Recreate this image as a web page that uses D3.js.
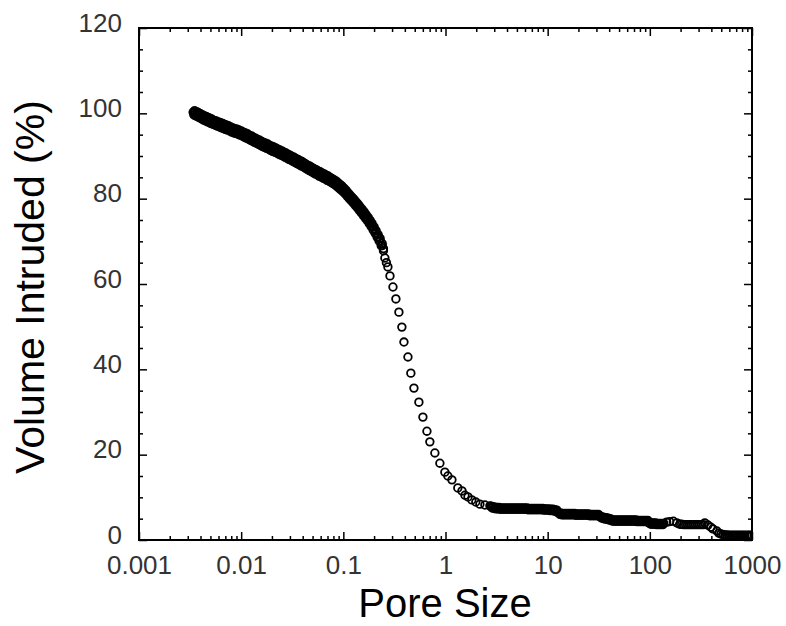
<!DOCTYPE html>
<html lang="en">
    <head>
        <meta charset="UTF-8">
        <title>pore size</title>
        <script src="https://cdn.jsdelivr.net/npm/d3@7"></script>
        <style>
            body { margin: 0; background: #fff; }
        </style>
    </head>
    <body>
        <div id="chart"></div>
    </body>
    <script>
        // dense start of the curve (black band), pore sizes
        var bandX = [
            0.0034, 0.0035, 0.0037, 0.0038, 0.004, 0.0042, 0.0044, 0.0046, 0.0048, 0.005,
            0.0052, 0.0055, 0.0057, 0.006, 0.0063, 0.0066, 0.0069, 0.0072, 0.0075, 0.0079,
            0.0083, 0.0087, 0.0091, 0.0095, 0.01, 0.0105, 0.011, 0.0115, 0.012, 0.0126,
            0.0132, 0.0138, 0.0145, 0.0152, 0.0159, 0.0166, 0.0174, 0.0182, 0.019, 0.0199,
            0.0208, 0.0218, 0.0228, 0.0239, 0.025, 0.0262, 0.0274, 0.0287, 0.03, 0.0314,
            0.0329, 0.0344, 0.036, 0.0377, 0.0394, 0.0412, 0.0431, 0.0451, 0.0472, 0.0494,
            0.0517, 0.0541, 0.0566, 0.0592, 0.062, 0.0649, 0.0679, 0.071, 0.0743, 0.0778,
            0.0814, 0.0852, 0.0891, 0.0933, 0.0976, 0.102, 0.107, 0.112, 0.117, 0.122,
            0.128, 0.134, 0.14, 0.146, 0.153, 0.16, 0.167, 0.175, 0.183, 0.191,
            0.2, 0.209, 0.219, 0.229, 0.24, 0.247
        ];
        // volume along the upper half of the band
        var upperY = [
            100.3, 100.6, 100.3, 100.2, 99.9, 99.6, 99.4, 99.2, 99.0, 98.8,
            98.6, 98.3, 98.2, 98.0, 97.8, 97.6, 97.4, 97.2, 97.1, 96.8,
            96.6, 96.4, 96.3, 96.1, 95.9, 95.6, 95.4, 95.2, 94.9, 94.7,
            94.4, 94.2, 93.9, 93.7, 93.4, 93.2, 93.0, 92.8, 92.5, 92.3,
            92.1, 91.9, 91.6, 91.4, 91.2, 90.9, 90.7, 90.4, 90.2, 89.9,
            89.7, 89.4, 89.2, 88.9, 88.7, 88.4, 88.1, 87.8, 87.6, 87.3,
            87.0, 86.8, 86.5, 86.3, 86.0, 85.8, 85.5, 85.3, 85.0, 84.7,
            84.4, 84.1, 83.7, 83.3, 82.9, 82.4, 81.9, 81.3, 80.8, 80.3,
            79.8, 79.2, 78.7, 78.1, 77.5, 76.9, 76.3, 75.6, 74.9, 74.2,
            73.4, 72.5, 71.6, 70.7, 69.5, 68.3
        ];
        // volume along the middle of the band
        var centerY = [
            100.2, 100.1, 99.8, 99.7, 99.4, 99.1, 98.9, 98.7, 98.5, 98.3,
            98.1, 97.8, 97.7, 97.5, 97.3, 97.1, 96.9, 96.7, 96.6, 96.3,
            96.1, 95.9, 95.8, 95.6, 95.4, 95.1, 94.9, 94.7, 94.4, 94.2,
            93.9, 93.7, 93.4, 93.2, 92.9, 92.7, 92.5, 92.3, 92.0, 91.8,
            91.6, 91.4, 91.1, 90.9, 90.7, 90.4, 90.2, 89.9, 89.7, 89.4,
            89.2, 88.9, 88.7, 88.4, 88.2, 87.9, 87.6, 87.3, 87.1, 86.8,
            86.5, 86.3, 86.0, 85.8, 85.5, 85.3, 85.0, 84.8, 84.5, 84.2,
            83.9, 83.6, 83.2, 82.8, 82.4, 81.9, 81.4, 80.8, 80.3, 79.8,
            79.3, 78.7, 78.2, 77.6, 77.0, 76.4, 75.8, 75.1, 74.4, 73.7,
            72.9, 72.0, 71.1, 70.2, 69.0, 67.8
        ];
        // lower half of the band, between the pore sizes above
        var lowerX = [
            0.00345, 0.0036, 0.00375, 0.0039, 0.0041, 0.0043, 0.0045, 0.0047, 0.0049, 0.0051,
            0.00535, 0.0056, 0.00585, 0.00615, 0.00645, 0.00675, 0.00705, 0.00735, 0.0077, 0.0081,
            0.0085, 0.0089, 0.0093, 0.00975, 0.01025, 0.01075, 0.01125, 0.01175, 0.0123, 0.0129,
            0.0135, 0.01415, 0.01485, 0.01555, 0.01625, 0.017, 0.0178, 0.0186, 0.01945, 0.02035,
            0.0213, 0.0223, 0.02335, 0.02445, 0.0256, 0.0268, 0.02805, 0.02935, 0.0307, 0.03215,
            0.03365, 0.0352, 0.03685, 0.03855, 0.0403, 0.04215, 0.0441, 0.04615, 0.0483, 0.05055,
            0.0529, 0.05535, 0.0579, 0.0606, 0.06345, 0.0664, 0.06945, 0.07265, 0.076, 0.0796,
            0.0833, 0.0871, 0.0912, 0.0954, 0.0998, 0.1045, 0.1095, 0.1145, 0.1195, 0.125,
            0.131, 0.137, 0.143, 0.1495, 0.1565, 0.1635, 0.171, 0.179, 0.187, 0.1955,
            0.2045, 0.214, 0.224, 0.2345
        ];
        var lowerY = [
            99.6, 99.4, 99.2, 99.0, 98.7, 98.4, 98.2, 98.0, 97.8, 97.6,
            97.4, 97.2, 97.0, 96.8, 96.6, 96.4, 96.2, 96.1, 95.9, 95.6,
            95.4, 95.3, 95.1, 94.9, 94.7, 94.4, 94.2, 94.0, 93.7, 93.5,
            93.2, 93.0, 92.7, 92.5, 92.2, 92.0, 91.8, 91.6, 91.3, 91.1,
            90.9, 90.7, 90.4, 90.2, 90.0, 89.7, 89.5, 89.2, 89.0, 88.7,
            88.5, 88.2, 88.0, 87.7, 87.5, 87.2, 86.9, 86.6, 86.4, 86.1,
            85.8, 85.6, 85.3, 85.1, 84.8, 84.6, 84.3, 84.1, 83.8, 83.5,
            83.2, 82.8, 82.4, 82.0, 81.6, 81.1, 80.5, 80.0, 79.5, 79.0,
            78.4, 77.9, 77.3, 76.7, 76.1, 75.5, 74.9, 74.2, 73.5, 72.7,
            71.9, 71.0, 70.1, 69.0
        ];
        // rest of the curve: the drop and the tail
        var poreSize = [
            0.255, 0.264, 0.273, 0.286, 0.306, 0.327, 0.35, 0.374, 0.392, 0.429,
            0.458, 0.491, 0.549, 0.601, 0.658, 0.703, 0.787, 0.881, 0.986, 1.055,
            1.156, 1.32, 1.45, 1.55, 1.66, 1.81, 1.98, 2.17, 2.43, 2.72,
            2.8, 2.93, 3.06, 3.2, 3.35, 3.5, 3.66, 3.83, 4.0, 4.19,
            4.38, 4.58, 4.79, 5.01, 5.24, 5.48, 5.73, 6.0, 6.27, 6.56,
            6.86, 7.18, 7.51, 7.85, 8.21, 8.59, 8.99, 9.4, 9.83, 10.3,
            10.8, 11.3, 11.8, 12.3, 12.9, 13.5, 14.1, 14.7, 15.4, 16.1,
            16.8, 17.6, 18.4, 19.2, 20.1, 21.0, 22.0, 23.0, 24.0, 25.1,
            26.3, 27.5, 28.7, 30.0, 31.4, 32.8, 34.3, 35.9, 37.5, 39.2,
            41.0, 42.9, 44.8, 46.9, 49.0, 51.2, 53.6, 56.0, 58.6, 61.2,
            64.0, 67.0, 70.0, 73.2, 76.5, 80.0, 83.6, 87.4, 91.4, 95.6,
            100, 104.5, 109, 114, 119, 125, 131, 137,
            146, 156, 170, 184,
            196, 205, 214, 224, 234, 245, 256, 268, 280, 293, 306, 320, 335,
            345, 370, 396, 414, 453, 474,
            495, 518, 542, 567, 593, 620, 649, 679, 710, 743, 777, 813, 850, 890, 931, 974
        ];
        var volume = [
            66.1, 65.0, 64.0, 61.9, 59.3, 56.5, 53.4, 49.9, 46.4, 42.9,
            39.1, 35.6, 32.3, 28.8, 25.5, 23.0, 20.4, 18.0, 15.9, 15.0,
            14.1, 12.2, 11.5, 10.5, 10.1, 9.4, 8.9, 8.4, 8.2, 8.0,
            7.9, 7.8, 7.7, 7.6, 7.6, 7.5, 7.5, 7.5, 7.5, 7.5,
            7.5, 7.5, 7.5, 7.5, 7.5, 7.5, 7.5, 7.5, 7.5, 7.4,
            7.4, 7.4, 7.4, 7.4, 7.4, 7.4, 7.4, 7.3, 7.3, 7.3,
            7.2, 7.2, 7.1, 7.0, 6.4, 6.3, 6.2, 6.2, 6.2, 6.2,
            6.2, 6.2, 6.2, 6.1, 6.1, 6.1, 6.1, 6.1, 6.1, 6.1,
            6.0, 6.0, 6.0, 6.0, 6.0, 5.6, 5.4, 5.3, 5.2, 5.1,
            5.0, 4.7, 4.7, 4.7, 4.7, 4.7, 4.7, 4.7, 4.7, 4.7,
            4.7, 4.7, 4.7, 4.7, 4.6, 4.6, 4.6, 4.6, 4.6, 4.6,
            4.0, 4.0, 4.0, 4.0, 3.9, 3.9, 3.9, 3.9,
            4.2, 4.3, 4.4, 4.0,
            3.7, 3.7, 3.6, 3.6, 3.6, 3.6, 3.6, 3.6, 3.6, 3.6, 3.6, 3.6, 3.6,
            4.0, 3.5, 3.0, 2.6, 2.1, 1.6,
            1.4, 1.3, 1.2, 1.2, 1.1, 1.1, 1.1, 1.1, 1.1, 1.1, 1.1, 1.1, 1.1, 1.1, 1.1, 1.1
        ];
        // tail band, points lying between the tail points above
        var tailX = [
            2.86, 3.0, 3.13, 3.27, 3.42, 3.58, 3.74, 3.91, 4.09, 4.28,
            4.48, 4.68, 4.9, 5.12, 5.36, 5.6, 5.86, 6.13, 6.41, 6.71,
            7.02, 7.34, 7.68, 8.03, 8.4, 8.79, 9.19, 9.61, 10.05, 10.55,
            11.05, 11.55, 12.05, 12.6, 13.2, 13.8, 14.4, 15.05, 15.75, 16.45,
            17.2, 18.0, 18.8, 19.65, 20.55, 21.5, 22.5, 23.5, 24.55, 25.7,
            26.9, 28.1, 29.35, 30.7, 32.1, 33.55, 35.1, 36.7, 38.35, 40.1,
            41.95, 43.85, 45.85, 47.95, 50.1, 52.4, 54.8, 57.3, 59.9, 62.6,
            65.5, 68.5, 71.6, 74.85, 78.25, 81.8, 85.5, 89.4, 93.5, 97.8,
            102.2, 106.7, 111.5, 116.5, 122, 128, 134
        ];
        var tailY = [
            7.5, 7.4, 7.3, 7.3, 7.2, 7.2, 7.2, 7.2, 7.2, 7.2,
            7.2, 7.2, 7.2, 7.2, 7.2, 7.2, 7.2, 7.2, 7.1, 7.1,
            7.1, 7.1, 7.1, 7.1, 7.1, 7.1, 7.0, 7.0, 7.0, 6.9,
            6.9, 6.8, 6.7, 6.4, 6.0, 5.9, 5.9, 5.9, 5.9, 5.9,
            5.9, 5.9, 5.8, 5.8, 5.8, 5.8, 5.8, 5.8, 5.8, 5.7,
            5.7, 5.7, 5.7, 5.7, 5.5, 5.2, 5.0, 4.9, 4.8, 4.7,
            4.5, 4.4, 4.4, 4.4, 4.4, 4.4, 4.4, 4.4, 4.4, 4.4,
            4.4, 4.4, 4.4, 4.3, 4.3, 4.3, 4.3, 4.3, 4.3, 4.0,
            3.7, 3.7, 3.7, 3.6, 3.6, 3.6, 3.6
        ];
        var xTickValues = [0.001, 0.01, 0.1, 1, 10, 100, 1000];
        var xTickLabels = ["0.001", "0.01", "0.1", "1", "10", "100", "1000"];
        var yTickValues = [0, 20, 40, 60, 80, 100, 120];

        var width = 786;
        var height = 626;
        var plot = {left: 139, right: 752, top: 28, bottom: 540};
        var font = "Arial, 'Liberation Sans', sans-serif";

        var svg = d3.select("#chart")
            .append("svg")
            .attr("width", width)
            .attr("height", height);

        var xScale = d3.scaleLog()
            .domain([0.001, 1000])
            .range([plot.left, plot.right]);
        var yScale = d3.scaleLinear()
            .domain([0, 120])
            .range([plot.bottom, plot.top]);

        // minor ticks: 2..9 of every decade, and every 5 on y
        var xMinor = [];
        xTickValues.slice(0, -1).forEach(function (d) {
            for (var k = 2; k < 10; k++) xMinor.push(d * k);
        });
        var yMinor = d3.range(0, 121, 5).filter(function (d) { return d % 20 !== 0; });

        function styleAxis(g) {
            g.select(".domain").remove();
            g.selectAll(".tick line").attr("stroke", "#000").attr("stroke-width", 1.5);
            g.selectAll(".tick text")
                .attr("fill", "#333")
                .style("font-family", font)
                .style("font-size", "26px");
        }

        // bottom
        svg.append("g")
            .attr("transform", "translate(0," + plot.bottom + ")")
            .call(d3.axisBottom(xScale).tickValues(xMinor).tickSize(-4).tickFormat(""))
            .call(styleAxis);
        svg.append("g")
            .attr("transform", "translate(0," + plot.bottom + ")")
            .call(d3.axisBottom(xScale).tickValues(xTickValues).tickSize(-8).tickPadding(16)
                .tickFormat(function (d, i) { return xTickLabels[i]; }))
            .call(styleAxis);
        // top
        svg.append("g")
            .attr("transform", "translate(0," + plot.top + ")")
            .call(d3.axisTop(xScale).tickValues(xMinor).tickSize(-4).tickFormat(""))
            .call(styleAxis);
        svg.append("g")
            .attr("transform", "translate(0," + plot.top + ")")
            .call(d3.axisTop(xScale).tickValues(xTickValues).tickSize(-8).tickFormat(""))
            .call(styleAxis);
        // left
        svg.append("g")
            .attr("transform", "translate(" + plot.left + ",0)")
            .call(d3.axisLeft(yScale).tickValues(yMinor).tickSize(-4).tickFormat(""))
            .call(styleAxis);
        var gy = svg.append("g")
            .attr("transform", "translate(" + plot.left + ",0)")
            .call(d3.axisLeft(yScale).tickValues(yTickValues).tickSize(-8).tickPadding(17))
            .call(styleAxis);
        gy.selectAll(".tick text").attr("dy", "0.12em");
        // right
        svg.append("g")
            .attr("transform", "translate(" + plot.right + ",0)")
            .call(d3.axisRight(yScale).tickValues(yMinor).tickSize(-4).tickFormat(""))
            .call(styleAxis);
        svg.append("g")
            .attr("transform", "translate(" + plot.right + ",0)")
            .call(d3.axisRight(yScale).tickValues(yTickValues).tickSize(-8).tickFormat(""))
            .call(styleAxis);

        // frame
        svg.append("rect")
            .attr("x", plot.left)
            .attr("y", plot.top)
            .attr("width", plot.right - plot.left)
            .attr("height", plot.bottom - plot.top)
            .attr("fill", "none")
            .attr("stroke", "#000")
            .attr("stroke-width", 2);

        svg.append("clipPath")
            .attr("id", "clip")
            .append("rect")
            .attr("x", plot.left)
            .attr("y", plot.top)
            .attr("width", plot.right - plot.left)
            .attr("height", plot.bottom - plot.top);

        // all points of the one series
        var points = [];
        bandX.forEach(function (d, i) { points.push([d, upperY[i]]); points.push([d, centerY[i]]); });
        lowerX.forEach(function (d, i) { points.push([d, lowerY[i]]); });
        poreSize.forEach(function (d, i) { points.push([d, volume[i]]); });
        tailX.forEach(function (d, i) { points.push([d, tailY[i]]); });

        // open circles
        svg.append("g")
            .attr("clip-path", "url(#clip)")
            .selectAll("circle")
            .data(points)
            .enter()
            .append("circle")
            .attr("cx", function (d) { return xScale(d[0]); })
            .attr("cy", function (d) { return yScale(d[1]); })
            .attr("r", 3.8)
            .attr("fill", "none")
            .attr("stroke", "#000")
            .attr("stroke-width", 1.8);

        // axis titles
        svg.append("text")
            .attr("x", 445)
            .attr("y", 617)
            .attr("text-anchor", "middle")
            .style("font-family", font)
            .style("font-size", "40px")
            .attr("fill", "#000")
            .text("Pore Size");
        svg.append("text")
            .attr("transform", "translate(44,287) rotate(-90)")
            .attr("text-anchor", "middle")
            .style("font-family", font)
            .style("font-size", "41px")
            .attr("fill", "#000")
            .text("Volume Intruded (%)");
    </script>
</html>
